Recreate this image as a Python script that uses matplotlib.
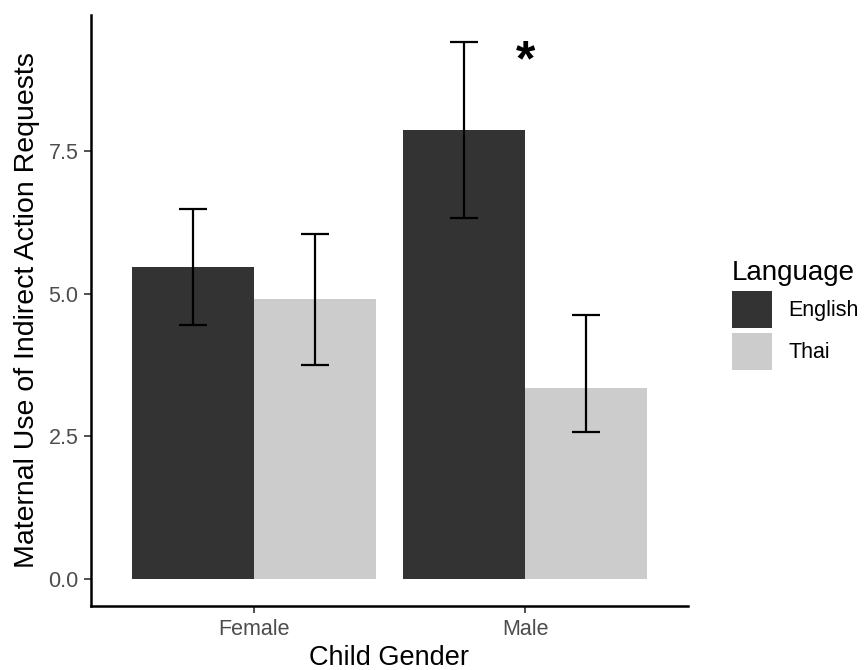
import matplotlib
matplotlib.use('Agg')
import matplotlib.pyplot as plt
import numpy as np
from matplotlib.patches import Patch

plt.rcParams['font.family'] = ['Liberation Sans', 'DejaVu Sans']

genders = ['Female', 'Male']
languages = ['English', 'Thai']
means = {'English': [5.47, 7.87], 'Thai': [4.91, 3.35]}
err_low = {'English': [4.46, 6.33], 'Thai': [3.76, 2.58]}
err_high = {'English': [6.48, 9.41], 'Thai': [6.04, 4.62]}
colors = {'English': '#333333', 'Thai': '#CCCCCC'}

fig = plt.figure(figsize=(8.64, 6.7), dpi=100)
ax = fig.add_axes([0.1053, 0.0955, 0.6910, 0.8820])

x = np.arange(1, len(genders) + 1)
width = 0.45
for i, lang in enumerate(languages):
    pos = x + (i - 0.5) * width
    vals = np.array(means[lang])
    ax.bar(pos, vals, width=width, color=colors[lang], edgecolor='none')
    lo = vals - np.array(err_low[lang])
    hi = np.array(err_high[lang]) - vals
    ax.errorbar(pos, vals, yerr=[lo, hi], fmt='none', ecolor='black',
                elinewidth=1.6, capsize=10, capthick=1.6)

# significance marker over the Male group
ax.text(2, 9.05, '*', ha='center', va='center', fontsize=36, fontweight='bold')

ax.set_xlim(0.4, 2.6)
ax.set_ylim(-0.47, 9.88)
ax.set_xticks(x)
ax.set_xticklabels(genders)
ax.set_yticks([0, 2.5, 5, 7.5])
ax.set_yticklabels(['0.0', '2.5', '5.0', '7.5'])
ax.tick_params(axis='both', colors='#333333', labelcolor='#4D4D4D',
               labelsize=15.5, length=5, width=1.2, pad=4)
ax.set_xlabel('Child Gender', fontsize=19.5, labelpad=4)
ax.set_ylabel('Maternal Use of Indirect Action Requests', fontsize=20.5, labelpad=6)

for s in ['top', 'right']:
    ax.spines[s].set_visible(False)
for s in ['left', 'bottom']:
    ax.spines[s].set_linewidth(1.8)
    ax.spines[s].set_color('black')

handles = [Patch(facecolor=colors[l], edgecolor='none', label=l) for l in languages]
leg = fig.legend(handles=handles, title='Language', loc='center left',
                 bbox_to_anchor=(0.835, 0.53), frameon=False, fontsize=15.5,
                 title_fontsize=20, handlelength=1.85, handleheight=2.25,
                 handletextpad=0.75, labelspacing=0.25, borderpad=0)
leg._legend_box.align = 'left'

fig.savefig('out.png', dpi=100)
